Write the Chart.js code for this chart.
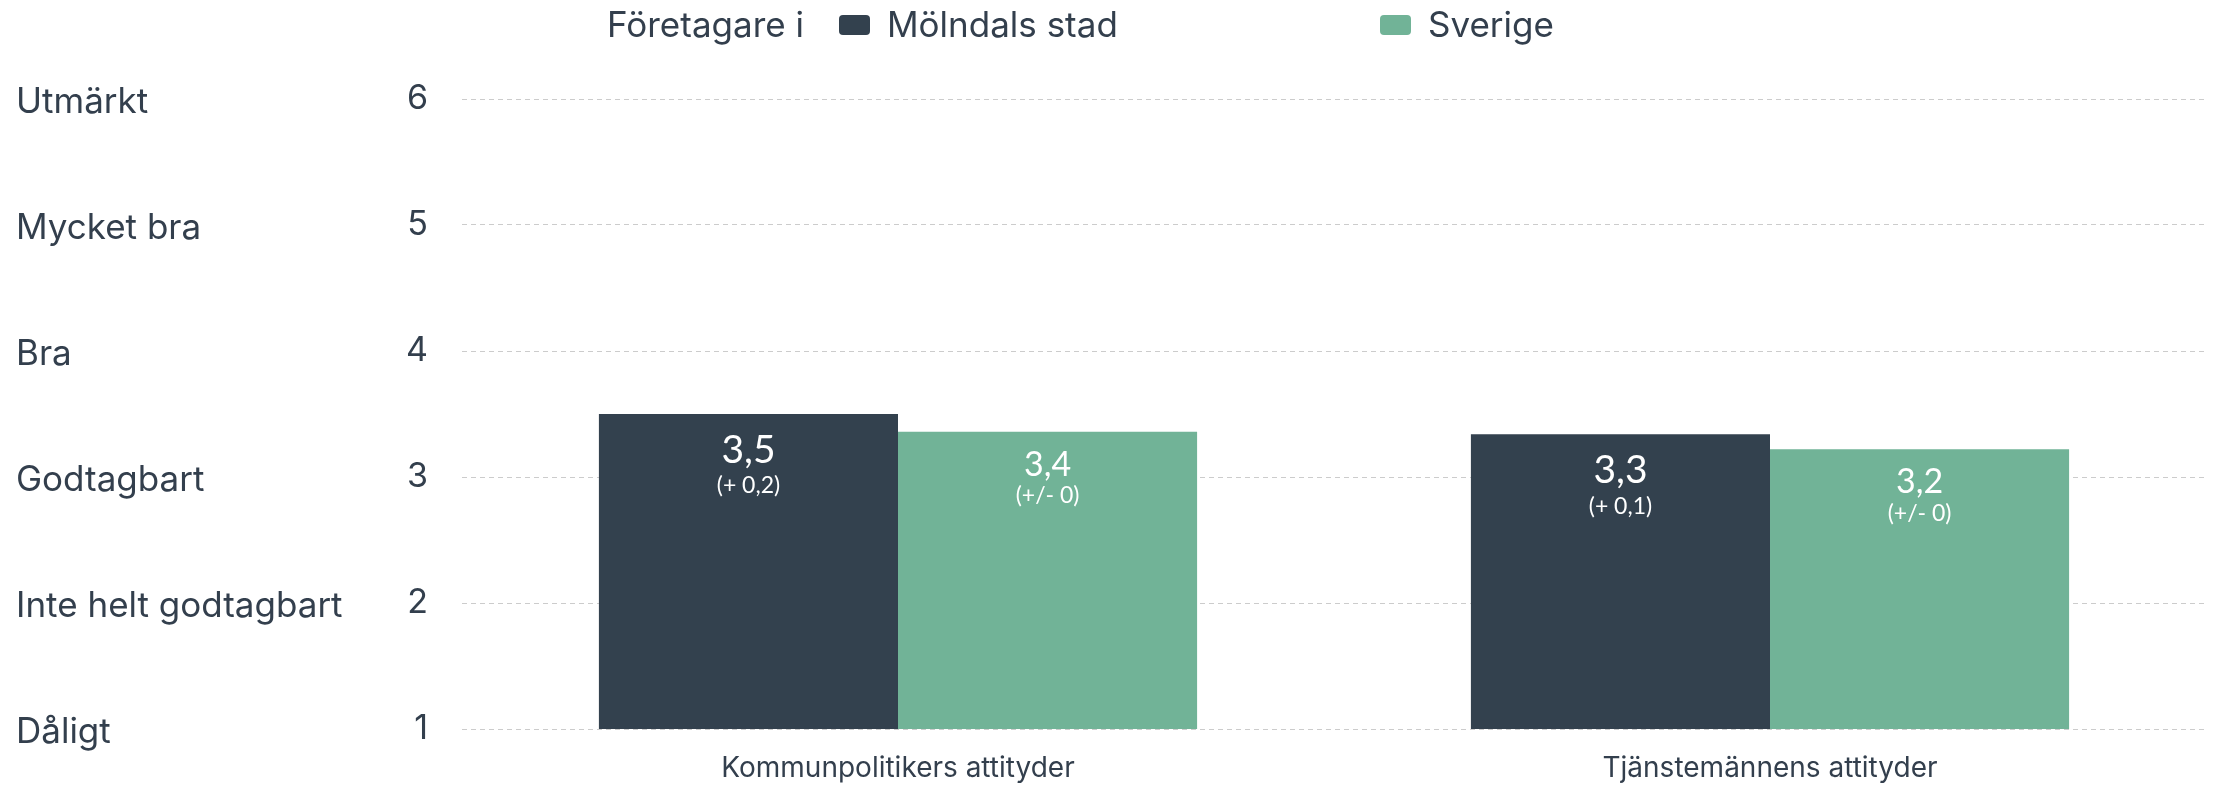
<!DOCTYPE html>
<html lang="sv">

<head>
  <meta charset="UTF-8">
  <title>Företagare i Mölndals stad</title>
  <script src="https://cdn.jsdelivr.net/npm/chart.js@4.4.1/dist/chart.umd.min.js"></script>
  <style>
    html, body { margin: 0; padding: 0; background: #fff; }
    #wrap { width: 2214px; height: 785px; }
  </style>
</head>

<body>
  <div id="wrap"><canvas id="chart"></canvas></div>
</body>

<script>
  // data
  const categories = ['Kommunpolitikers attityder', 'Tjänstemännens attityder'];
  const seriesNames = ['Mölndals stad', 'Sverige'];
  const molndal = [3.5, 3.34];
  const sverige = [3.36, 3.22];
  const molndalChange = ['(+ 0,2)', '(+ 0,1)'];
  const sverigeChange = ['(+/- 0)', '(+/- 0)'];
  const yTicks = [1, 2, 3, 4, 5, 6];
  const yTexts = ['Dåligt', 'Inte helt godtagbart', 'Godtagbart', 'Bra', 'Mycket bra', 'Utmärkt'];

  const dark = '#33414e';
  const green = '#71b397';
  const textColor = '#333f4d';

  Chart.defaults.font.family = 'Inter, "Noto Sans", sans-serif';
  Chart.defaults.color = textColor;

  const fmt = v => v.toFixed(1).replace('.', ',');

  // text labels left of the y numbers
  const yTextPlugin = {
    id: 'yText',
    afterDraw(chart) {
      const ctx = chart.ctx;
      const y = chart.scales.y;
      ctx.save();
      ctx.font = '35px Inter, sans-serif';
      ctx.fillStyle = textColor;
      ctx.textAlign = 'left';
      ctx.textBaseline = 'middle';
      yTicks.forEach((t, i) => {
        ctx.fillText(yTexts[i], 16, y.getPixelForValue(t) + 3);
      });
      ctx.restore();
    }
  };

  // values inside the bars
  const barLabelPlugin = {
    id: 'barLabels',
    afterDatasetsDraw(chart) {
      const ctx = chart.ctx;
      const subs = [molndalChange, sverigeChange];
      ctx.save();
      ctx.fillStyle = '#fff';
      ctx.textAlign = 'center';
      ctx.textBaseline = 'middle';
      chart.data.datasets.forEach((ds, di) => {
        chart.getDatasetMeta(di).data.forEach((bar, i) => {
          const big = di === 0 ? 39 : 34;
          const off = di === 0 ? 36 : 33;
          const off2 = di === 0 ? 72 : 64;
          ctx.font = big + 'px Lato, sans-serif';
          ctx.fillText(fmt(ds.data[i]), bar.x, bar.y + off);
          ctx.font = '23px Lato, sans-serif';
          ctx.fillText(subs[di][i], bar.x, bar.y + off2);
        });
      });
      ctx.restore();
    }
  };

  // legend with prefix text
  const legendPlugin = {
    id: 'customLegend',
    afterDraw(chart) {
      const ctx = chart.ctx;
      const cy = 25;
      ctx.save();
      ctx.font = '35px Inter, sans-serif';
      ctx.fillStyle = textColor;
      ctx.textBaseline = 'middle';
      ctx.textAlign = 'left';
      ctx.fillText('Företagare i', 607, cy + 1);
      const boxX = [839, 1380];
      chart.data.datasets.forEach((ds, i) => {
        ctx.fillStyle = ds.backgroundColor;
        ctx.beginPath();
        ctx.roundRect(boxX[i], cy - 10, 31, 20, 4);
        ctx.fill();
        ctx.fillStyle = textColor;
        ctx.fillText(ds.label, boxX[i] + 48, cy + 1);
      });
      ctx.restore();
    }
  };

  new Chart(document.getElementById('chart'), {
    type: 'bar',
    data: {
      labels: categories,
      datasets: [
        { label: seriesNames[0], data: molndal, backgroundColor: dark },
        { label: seriesNames[1], data: sverige, backgroundColor: green }
      ]
    },
    options: {
      responsive: true,
      maintainAspectRatio: false,
      animation: false,
      layout: { padding: { top: 99, right: 8, left: 0, bottom: 0 } },
      datasets: {
        bar: { categoryPercentage: 0.686, barPercentage: 1 }
      },
      plugins: {
        legend: { display: false },
        tooltip: { enabled: false }
      },
      scales: {
        x: {
          afterFit(scale) { scale.height = 56; },
          grid: { display: false },
          border: { display: false },
          ticks: { font: { size: 28 }, padding: 15, color: textColor, maxRotation: 0 }
        },
        y: {
          min: 1,
          max: 6,
          afterFit(scale) { scale.width = 462; },
          grid: { color: '#cccccc', lineWidth: 1, drawTicks: false },
          border: { display: false, dash: [5, 4] },
          ticks: {
            stepSize: 1,
            padding: 34,
            font: { size: 34 },
            color: textColor
          }
        }
      }
    },
    plugins: [yTextPlugin, barLabelPlugin, legendPlugin]
  });
</script>

</html>
